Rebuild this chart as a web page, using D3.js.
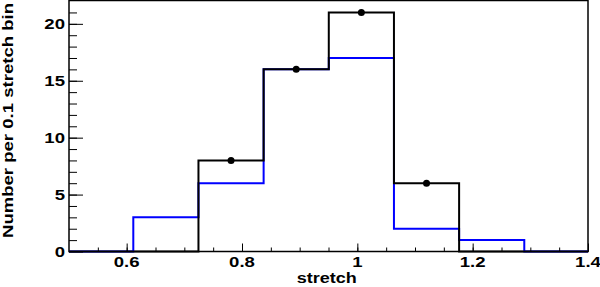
<!DOCTYPE html>
<html>
<head>
<meta charset="utf-8">
<script src="https://cdn.jsdelivr.net/npm/d3@7"></script>
<style>
  body { margin: 0; background: #fff; }
  svg text { font-family: "Liberation Sans", Arial, sans-serif; font-weight: bold; }
</style>
</head>
<body>
<div id="my_dataviz"></div>
<script>
// bin edges and counts per bin
var binEdges = [0.6115, 0.7245, 0.8375, 0.9505, 1.0635, 1.1765, 1.2895];
var blueCounts = [3, 6, 16, 17, 2, 1];
var blackCounts = [0, 8, 16, 21, 6, 0];
var xTickLabels = ["0.6", "0.8", "1", "1.2", "1.4"];
var yTickLabels = ["0", "5", "10", "15", "20"];

var W = 600, H = 287;
var margin = {top: 0.5, right: 12, bottom: 35.5, left: 69};
var wide = 1.28; // the reference font is wider than Liberation Sans

var svg = d3.select("#my_dataviz")
    .append("svg")
    .attr("width", W)
    .attr("height", H);

var x = d3.scaleLinear().domain([0.5, 1.4]).range([margin.left, W - margin.right]);
var y = d3.scaleLinear().domain([0, 22.05]).range([H - margin.bottom, margin.top]);

// frame
svg.append("rect")
    .attr("x", x(0.5)).attr("y", y(22.05))
    .attr("width", x(1.4) - x(0.5)).attr("height", y(0) - y(22.05))
    .attr("fill", "none").attr("stroke", "#000").attr("stroke-width", 1.5);

// turn counts into step points spanning the whole axis
function steps(counts) {
    var pts = [[0.5, 0]];
    counts.forEach(function (c, i) { pts.push([binEdges[i], c]); });
    pts.push([binEdges[binEdges.length - 1], 0]);
    pts.push([1.4, 0]);
    return pts;
}

var line = d3.line()
    .x(function (d) { return x(d[0]); })
    .y(function (d) { return y(d[1]); })
    .curve(d3.curveStepAfter);

svg.append("path")
    .attr("d", line(steps(blueCounts)))
    .attr("fill", "none").attr("stroke", "#0000ff").attr("stroke-width", 2);

svg.append("path")
    .attr("d", line(steps(blackCounts)))
    .attr("fill", "none").attr("stroke", "#000").attr("stroke-width", 2);

// markers at bin centres
svg.selectAll(".dot")
    .data(blackCounts.map(function (c, i) { return {c: c, xc: (binEdges[i] + binEdges[i + 1]) / 2}; })
        .filter(function (d) { return d.c > 0; }))
    .enter()
    .append("circle")
    .attr("cx", function (d) { return x(d.xc); })
    .attr("cy", function (d) { return y(d.c); })
    .attr("r", 3.5)
    .attr("fill", "#000");

// x axis: ticks point up into the plot
var xMinor = d3.range(0.55, 1.4001, 0.05);
var xMajor = xTickLabels.map(Number);
svg.append("g")
    .attr("transform", "translate(0," + y(0) + ")")
    .call(d3.axisTop(x).tickValues(xMinor).tickSize(4).tickFormat(""))
    .call(function (g) { g.select(".domain").remove(); });
svg.append("g")
    .attr("transform", "translate(0," + y(0) + ")")
    .call(d3.axisTop(x).tickValues(xMajor).tickSize(8).tickFormat(""))
    .call(function (g) { g.select(".domain").remove(); });
svg.append("g")
    .selectAll("text")
    .data(xTickLabels)
    .enter()
    .append("text")
    .attr("transform", function (d) {
        return "translate(" + x(+d) + "," + (y(0) + 15) + ") scale(" + wide + ",1)";
    })
    .attr("text-anchor", "middle")
    .attr("font-size", "14.5px")
    .text(function (d) { return d; });

// y axis: ticks point right into the plot
var yMinor = d3.range(1, 22, 1);
var yMajor = yTickLabels.map(Number);
svg.append("g")
    .attr("transform", "translate(" + x(0.5) + ",0)")
    .call(d3.axisRight(y).tickValues(yMinor).tickSize(8).tickFormat(""))
    .call(function (g) { g.select(".domain").remove(); });
svg.append("g")
    .attr("transform", "translate(" + x(0.5) + ",0)")
    .call(d3.axisRight(y).tickValues(yMajor).tickSize(14).tickFormat(""))
    .call(function (g) { g.select(".domain").remove(); });
svg.append("g")
    .selectAll("text")
    .data(yTickLabels)
    .enter()
    .append("text")
    .attr("transform", function (d) {
        return "translate(" + (x(0.5) - 4) + "," + (y(+d) + 5.2) + ") scale(" + wide + ",1)";
    })
    .attr("text-anchor", "end")
    .attr("font-size", "14.5px")
    .text(function (d) { return d; });

// axis titles
svg.append("text")
    .attr("x", 296.7)
    .attr("y", 283)
    .attr("textLength", 60)
    .attr("lengthAdjust", "spacingAndGlyphs")
    .attr("font-size", "14px")
    .text("stretch");

svg.append("text")
    .attr("transform", "translate(13,238) rotate(-90)")
    .attr("textLength", 235)
    .attr("lengthAdjust", "spacingAndGlyphs")
    .attr("font-size", "14px")
    .text("Number per 0.1 stretch bin");
</script>
</body>
</html>
